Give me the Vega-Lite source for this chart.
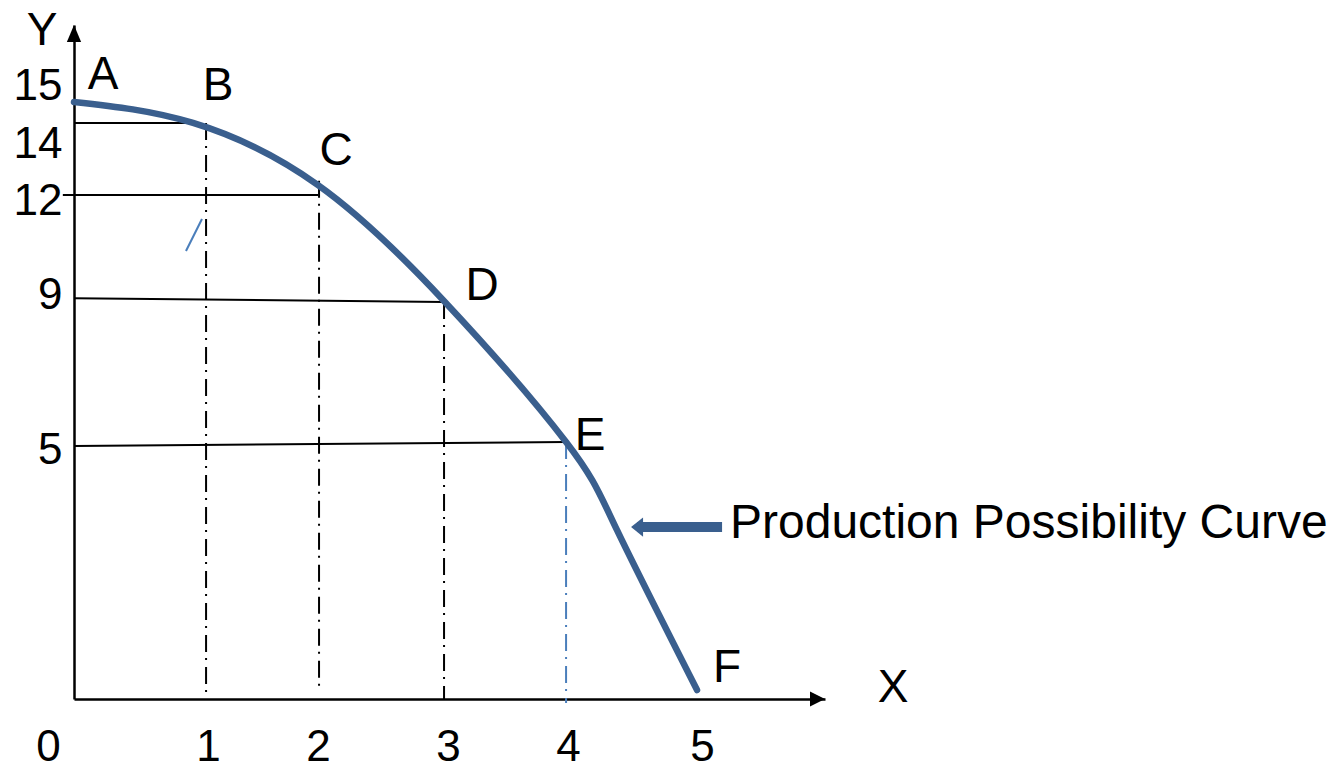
{
  "$schema": "https://vega.github.io/schema/vega-lite/v6.json",
  "width": 751,
  "height": 674,
  "autosize": {"type": "none"},
  "padding": {"left": 74, "top": 25, "right": 505, "bottom": 67},
  "background": "white",
  "config": {"view": {"stroke": null}, "font": "Liberation Sans"},
  "datasets": {
    "curve": [
      {"x": 0, "y": 14.88},
      {"x": 0.96, "y": 14.22},
      {"x": 1.968, "y": 12.3},
      {"x": 2.976, "y": 8.92},
      {"x": 3.968, "y": 5.1},
      {"x": 4.379, "y": 2.99},
      {"x": 5.024, "y": 0.072}
    ],
    "guides": [
      {"name": "h14", "kind": "horizontal", "x": 0, "y": 14.22, "x2": 0.96, "y2": 14.22},
      {"name": "h12", "kind": "horizontal", "x": -0.09, "y": 12, "x2": 1.968, "y2": 12},
      {"name": "h9", "kind": "horizontal", "x": 0, "y": 8.97, "x2": 2.984, "y2": 8.86},
      {"name": "h5", "kind": "horizontal", "x": 0, "y": 5, "x2": 3.968, "y2": 5.1},
      {"name": "v1", "kind": "vertical", "x": 1.065, "y": 14.22, "x2": 1.065, "y2": 0},
      {"name": "v2", "kind": "vertical", "x": 1.976, "y": 12.43, "x2": 1.976, "y2": 0.1},
      {"name": "v3", "kind": "vertical", "x": 2.984, "y": 8.86, "x2": 2.984, "y2": 0},
      {"name": "v4", "kind": "vertical-blue", "x": 3.968, "y": 5.1, "x2": 3.968, "y2": -0.026}
    ],
    "stray": [
      {"x": 0.903, "y": 10.33, "x2": 1.032, "y2": 11.28}
    ],
    "letters": [
      {"label": "A", "x": 0.234, "y": 15.29},
      {"label": "B", "x": 1.161, "y": 14.94},
      {"label": "C", "x": 2.113, "y": 12.91},
      {"label": "D", "x": 3.29, "y": 8.92},
      {"label": "E", "x": 4.161, "y": 4.9},
      {"label": "F", "x": 5.266, "y": 0.162},
      {"label": "Y", "x": -0.258, "y": 16.71},
      {"label": "X", "x": 6.605, "y": -0.018}
    ],
    "annotation": [
      {"label": "Production Possibility Curve", "x": 5.29, "y": 2.815}
    ],
    "pointer_shaft": [
      {"x": 4.54, "x2": 5.226, "y": 3.06}
    ],
    "pointer_head": [
      {"x": 4.492, "y": 3.06}
    ],
    "axis_up": [
      {"x": 0, "y": 17.36}
    ],
    "axis_right": [
      {"x": 6.056, "y": 0}
    ]
  },
  "encoding": {
    "x": {
      "field": "x",
      "type": "quantitative",
      "scale": {"domain": [0, 6.056], "nice": false, "zero": false},
      "axis": {
        "title": null,
        "values": [0, 1, 2, 3, 4, 5],
        "grid": false,
        "ticks": false,
        "tickSize": 0,
        "domain": true,
        "domainColor": "#000000",
        "domainWidth": 2.5,
        "labelFont": "Liberation Sans",
        "labelFontSize": 44,
        "labelColor": "#000000",
        "labelPadding": 26,
        "labelBaseline": "top",
        "labelAlign": "center",
        "labelFlush": false,
        "labelOverlap": false,
        "labelBound": false,
        "labelOffset": {
          "condition": [
            {"test": "datum.value == 0", "value": -26},
            {"test": "datum.value == 1", "value": 10},
            {"test": "datum.value == 2", "value": -4},
            {"test": "datum.value == 3", "value": 2},
            {"test": "datum.value == 4", "value": -2},
            {"test": "datum.value == 5", "value": 8}
          ],
          "value": 0
        }
      }
    },
    "y": {
      "field": "y",
      "type": "quantitative",
      "scale": {"type": "pow", "exponent": 0.787, "domain": [0, 17.36], "nice": false, "zero": false},
      "axis": {
        "title": null,
        "values": [5, 9, 12, 14, 15],
        "grid": false,
        "ticks": false,
        "tickSize": 0,
        "domain": true,
        "domainColor": "#000000",
        "domainWidth": 2.5,
        "labelFont": "Liberation Sans",
        "labelFontSize": 44,
        "labelColor": "#000000",
        "labelPadding": 12,
        "labelAlign": "right",
        "labelBaseline": "middle",
        "labelFlush": false,
        "labelOverlap": false,
        "labelBound": false,
        "labelOffset": {
          "condition": [
            {"test": "datum.value == 15", "value": -11.5},
            {"test": "datum.value == 14", "value": 15},
            {"test": "datum.value == 12", "value": 7},
            {"test": "datum.value == 9", "value": -1.5},
            {"test": "datum.value == 5", "value": 4.5}
          ],
          "value": 0
        }
      }
    }
  },
  "layer": [
    {
      "data": {"name": "guides"},
      "transform": [{"filter": "datum.kind == 'horizontal'"}],
      "mark": {"type": "rule", "color": "#000000", "strokeWidth": 2},
      "encoding": {"x2": {"field": "x2"}, "y2": {"field": "y2"}}
    },
    {
      "data": {"name": "guides"},
      "transform": [{"filter": "datum.kind == 'vertical'"}],
      "mark": {"type": "rule", "color": "#000000", "strokeWidth": 2, "strokeDash": [17, 6, 2, 7]},
      "encoding": {"x2": {"field": "x2"}, "y2": {"field": "y2"}}
    },
    {
      "data": {"name": "guides"},
      "transform": [{"filter": "datum.kind == 'vertical-blue'"}],
      "mark": {"type": "rule", "color": "#4A7EBB", "strokeWidth": 2, "strokeDash": [17, 6, 2, 7]},
      "encoding": {"x2": {"field": "x2"}, "y2": {"field": "y2"}}
    },
    {
      "data": {"name": "stray"},
      "mark": {"type": "rule", "color": "#4A7EBB", "strokeWidth": 2},
      "encoding": {"x2": {"field": "x2"}, "y2": {"field": "y2"}}
    },
    {
      "data": {"name": "curve"},
      "mark": {"type": "line", "color": "#3A5F8E", "strokeWidth": 6.5, "interpolate": "natural", "strokeCap": "round"}
    },
    {
      "data": {"name": "pointer_shaft"},
      "mark": {"type": "rule", "color": "#3A5F8E", "strokeWidth": 10, "strokeCap": "butt"},
      "encoding": {"x2": {"field": "x2"}}
    },
    {
      "data": {"name": "pointer_head"},
      "mark": {"type": "point", "shape": "M0,0L1,-0.8L1,0.8Z", "size": 576, "filled": true, "color": "#3A5F8E", "opacity": 1, "strokeWidth": 0}
    },
    {
      "data": {"name": "axis_up"},
      "mark": {"type": "point", "shape": "M0,0L-0.42,1L0.42,1Z", "size": 1156, "filled": true, "color": "#000000", "opacity": 1, "strokeWidth": 0}
    },
    {
      "data": {"name": "axis_right"},
      "mark": {"type": "point", "shape": "M0,0L-1,-0.5L-1,0.5Z", "size": 900, "filled": true, "color": "#000000", "opacity": 1, "strokeWidth": 0}
    },
    {
      "data": {"name": "letters"},
      "mark": {"type": "text", "font": "Liberation Sans", "fontSize": 46, "color": "#000000", "align": "center", "baseline": "alphabetic"},
      "encoding": {"text": {"field": "label"}}
    },
    {
      "data": {"name": "annotation"},
      "mark": {"type": "text", "font": "Liberation Sans", "fontSize": 48, "color": "#000000", "align": "left", "baseline": "alphabetic"},
      "encoding": {"text": {"field": "label"}}
    }
  ]
}
